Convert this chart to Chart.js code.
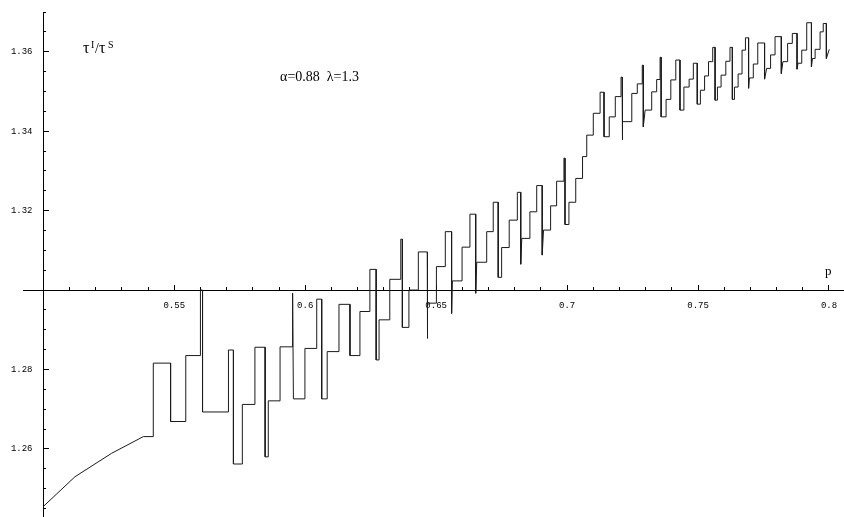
<!DOCTYPE html>
<html>
<head>
<meta charset="utf-8">
<script src="https://cdn.jsdelivr.net/npm/chart.js@4.4.1/dist/chart.umd.min.js"></script>
<style>
  html, body { margin: 0; padding: 0; background: #fff; }
  canvas { display: block; }
</style>
</head>
<body>
<canvas id="c" width="844" height="517"></canvas>
<script>
// p values (x) and tau ratio (y)
const pValues = [
  0.5000, 0.5121, 0.5261, 0.5382, 0.5420,
  0.5420, 0.5486, 0.5486, 0.5544, 0.5544, 0.5600, 0.5600, 0.5608, 0.5608, 0.5707,
  0.5707, 0.5726, 0.5726, 0.5760, 0.5760, 0.5808, 0.5808, 0.5847, 0.5847, 0.5859,
  0.5859, 0.5904, 0.5904, 0.5952, 0.5952, 0.5955, 0.5999, 0.5999, 0.6044, 0.6044,
  0.6063, 0.6063, 0.6084, 0.6084, 0.6129, 0.6129, 0.6171, 0.6171, 0.6209, 0.6209,
  0.6247, 0.6247, 0.6271, 0.6271, 0.6282, 0.6282, 0.6323, 0.6323, 0.6365, 0.6365,
  0.6371, 0.6371, 0.6396, 0.6396, 0.6432, 0.6432, 0.6466, 0.6466, 0.6468, 0.6501,
  0.6501, 0.6535, 0.6535, 0.6559, 0.6559, 0.6562, 0.6599, 0.6599, 0.6629, 0.6629,
  0.6651, 0.6651, 0.6655, 0.6693, 0.6693, 0.6718, 0.6718, 0.6737, 0.6737, 0.6750,
  0.6750, 0.6779, 0.6779, 0.6810, 0.6810, 0.6823, 0.6823, 0.6827, 0.6858, 0.6858,
  0.6884, 0.6884, 0.6905, 0.6905, 0.6910, 0.6937, 0.6937, 0.6960, 0.6960, 0.6988,
  0.6988, 0.6992, 0.6992, 0.7007, 0.7007, 0.7033, 0.7033, 0.7059, 0.7059, 0.7075,
  0.7075, 0.7100, 0.7100, 0.7126, 0.7126, 0.7141, 0.7141, 0.7161, 0.7161, 0.7184,
  0.7184, 0.7206, 0.7206, 0.7210, 0.7210, 0.7213, 0.7247, 0.7247, 0.7268, 0.7268,
  0.7287, 0.7287, 0.7291, 0.7291, 0.7298, 0.7323, 0.7323, 0.7342, 0.7342, 0.7355,
  0.7355, 0.7359, 0.7359, 0.7378, 0.7378, 0.7396, 0.7396, 0.7415, 0.7415, 0.7431,
  0.7431, 0.7446, 0.7446, 0.7466, 0.7466, 0.7482, 0.7482, 0.7497, 0.7497,
  0.7509, 0.7509, 0.7525, 0.7525, 0.7540, 0.7540, 0.7556, 0.7556, 0.7565, 0.7565,
  0.7574, 0.7574, 0.7588, 0.7588, 0.7606, 0.7606, 0.7622, 0.7622, 0.7631, 0.7631,
  0.7639, 0.7639, 0.7653, 0.7653, 0.7668, 0.7668, 0.7681, 0.7681, 0.7693, 0.7693,
  0.7696, 0.7711, 0.7711, 0.7728, 0.7728, 0.7754, 0.7754,
  0.7762, 0.7777, 0.7777, 0.7794, 0.7794, 0.7818, 0.7818,
  0.7824, 0.7842, 0.7842, 0.7860, 0.7860, 0.7878, 0.7878,
  0.7882, 0.7896, 0.7896, 0.7915, 0.7915, 0.7933, 0.7933,
  0.7937, 0.7947, 0.7947, 0.7966, 0.7966, 0.7978, 0.7978, 0.7990, 0.7990,
  0.8001
]

const ratioValues = [
  1.2455, 1.2530, 1.2589, 1.2631, 1.2631,
  1.2816, 1.2816, 1.2669, 1.2669, 1.2835, 1.2835, 1.3000, 1.3000, 1.2693, 1.2693,
  1.2849, 1.2849, 1.2562, 1.2562, 1.2712, 1.2712, 1.2856, 1.2856, 1.2580, 1.2580,
  1.2721, 1.2721, 1.2857, 1.2857, 1.2992, 1.2726, 1.2726, 1.2853, 1.2853, 1.2977,
  1.2977, 1.2726, 1.2726, 1.2845, 1.2845, 1.2964, 1.2964, 1.2835, 1.2835, 1.2946,
  1.2946, 1.3052, 1.3052, 1.2824, 1.2824, 1.2925, 1.2925, 1.3027, 1.3027, 1.3128,
  1.3128, 1.2906, 1.2906, 1.3000, 1.3000, 1.3096, 1.3096, 1.2878, 1.2967, 1.2967,
  1.3059, 1.3059, 1.3147, 1.3147, 1.2941, 1.3023, 1.3023, 1.3108, 1.3108, 1.3191,
  1.3191, 1.2992, 1.3070, 1.3070, 1.3147, 1.3147, 1.3221, 1.3221, 1.3032, 1.3032,
  1.3107, 1.3107, 1.3176, 1.3176, 1.3246, 1.3246, 1.3065, 1.3130, 1.3130, 1.3197,
  1.3197, 1.3263, 1.3263, 1.3088, 1.3151, 1.3151, 1.3212, 1.3212, 1.3274, 1.3274,
  1.3332, 1.3332, 1.3165, 1.3165, 1.3221, 1.3221, 1.3281, 1.3281, 1.3336, 1.3336,
  1.3390, 1.3390, 1.3445, 1.3445, 1.3498, 1.3498, 1.3386, 1.3386, 1.3436, 1.3436,
  1.3487, 1.3487, 1.3536, 1.3536, 1.3378, 1.3424, 1.3424, 1.3495, 1.3495, 1.3519,
  1.3519, 1.3566, 1.3566, 1.3411, 1.3453, 1.3453, 1.3499, 1.3499, 1.3530, 1.3530,
  1.3586, 1.3586, 1.3436, 1.3436, 1.3480, 1.3480, 1.3529, 1.3529, 1.3579, 1.3579,
  1.3453, 1.3453, 1.3511, 1.3511, 1.3531, 1.3531, 1.3571, 1.3571, 1.3468,
  1.3468, 1.3503, 1.3503, 1.3539, 1.3539, 1.3575, 1.3575, 1.3611, 1.3611, 1.3478,
  1.3478, 1.3511, 1.3511, 1.3541, 1.3541, 1.3576, 1.3576, 1.3611, 1.3611, 1.3480,
  1.3480, 1.3511, 1.3511, 1.3544, 1.3544, 1.3604, 1.3604, 1.3635, 1.3635, 1.3508,
  1.3534, 1.3534, 1.3569, 1.3569, 1.3622, 1.3622, 1.3531,
  1.3558, 1.3558, 1.3592, 1.3592, 1.3638, 1.3638, 1.3545,
  1.3575, 1.3575, 1.3621, 1.3621, 1.3646, 1.3646, 1.3556,
  1.3571, 1.3571, 1.3604, 1.3604, 1.3673, 1.3673, 1.3562,
  1.3583, 1.3583, 1.3606, 1.3606, 1.3650, 1.3650, 1.3671, 1.3671, 1.3583,
  1.3606
]

const xMin = 0.49225
const xMax = 0.80573
const yMin = 1.24286
const yMax = 1.37
const axisCrossX = 0.5
const axisCrossY = 1.30

const tickFont = { family: '"Liberation Mono", "DejaVu Sans Mono", monospace', size: 9 }

function noPadding(scale) {
  scale.paddingLeft = 0
  scale.paddingRight = 0
  scale.paddingTop = 0
  scale.paddingBottom = 0
}

const labelPlugin = {
  id: 'plotLabels',
  afterDraw(chart) {
    const { ctx } = chart
    const sx = chart.scales.x
    const sy = chart.scales.y
    ctx.save()
    ctx.fillStyle = '#000'
    ctx.textBaseline = 'alphabetic'
    ctx.textAlign = 'left'

    // tau^I / tau^S
    const x0 = sx.getPixelForValue(0.5152)
    const base = sy.getPixelForValue(1.3597)
    const big = '16px "Liberation Serif", serif'
    const small = '10px "Liberation Serif", serif'
    ctx.font = big
    ctx.fillText('\u03C4', x0, base)
    ctx.font = small
    ctx.fillText('I', x0 + 8, base - 4.5)
    ctx.font = '14px "Liberation Serif", serif'
    ctx.fillText('/', x0 + 12, base)
    ctx.font = big
    ctx.fillText('\u03C4', x0 + 16, base)
    ctx.font = small
    ctx.fillText('S', x0 + 25, base - 4.5)

    // parameters
    ctx.font = '14px "Liberation Serif", serif'
    ctx.fillText('\u03B1=0.88  \u03BB=1.3', sx.getPixelForValue(0.5904), sy.getPixelForValue(1.3526))

    // axis name
    ctx.font = '13px "Liberation Serif", serif'
    ctx.fillText('p', sx.getPixelForValue(0.7985), sy.getPixelForValue(1.3038))
    ctx.restore()
  }
}

const points = pValues.map((p, i) => ({ x: p, y: ratioValues[i] }))

new Chart(document.getElementById('c'), {
  type: 'scatter',
  data: {
    datasets: [
      {
        data: points,
        showLine: true,
        borderColor: '#1a1a1a',
        borderWidth: 1,
        pointRadius: 0,
        tension: 0
      }
    ]
  },
  options: {
    responsive: false,
    animation: false,
    layout: { padding: { left: 23, top: 12, right: 0, bottom: 0 } },
    plugins: {
      legend: { display: false },
      tooltip: { enabled: false }
    },
    scales: {
      x: {
        type: 'linear',
        min: xMin,
        max: xMax,
        position: { y: axisCrossY },
        afterFit: noPadding,
        border: { display: true, color: '#000', width: 1 },
        grid: { drawOnChartArea: false, drawTicks: true, tickLength: -6, color: '#000' },
        ticks: {
          stepSize: 0.05,
          includeBounds: false,
          autoSkip: false,
          maxRotation: 0,
          padding: 16,
          color: '#000',
          font: tickFont,
          callback: (v) => (v < 0.51 ? '' : String(Number(v.toFixed(2))))
        }
      },
      xMinor: {
        type: 'linear',
        axis: 'x',
        min: xMin,
        max: xMax,
        position: { y: axisCrossY },
        afterFit: noPadding,
        border: { display: false },
        grid: { drawOnChartArea: false, drawTicks: true, tickLength: -3, color: '#000' },
        ticks: { stepSize: 0.01, includeBounds: false, autoSkip: false, display: false }
      },
      y: {
        type: 'linear',
        min: yMin,
        max: yMax,
        position: { x: axisCrossX },
        afterFit: noPadding,
        border: { display: true, color: '#000', width: 1 },
        grid: { drawOnChartArea: false, drawTicks: true, tickLength: -6, color: '#000' },
        ticks: {
          stepSize: 0.02,
          includeBounds: false,
          autoSkip: false,
          color: '#000',
          font: tickFont,
          callback: (v) => (Math.abs(v - 1.3) < 0.001 ? '' : v.toFixed(2) + '  ')
        }
      },
      yMinor: {
        type: 'linear',
        axis: 'y',
        min: yMin,
        max: yMax,
        position: { x: axisCrossX },
        afterFit: noPadding,
        border: { display: false },
        grid: { drawOnChartArea: false, drawTicks: true, tickLength: -3, color: '#000' },
        ticks: { stepSize: 0.005, includeBounds: false, autoSkip: false, display: false }
      }
    }
  },
  plugins: [labelPlugin]
})
</script>
</body>
</html>
